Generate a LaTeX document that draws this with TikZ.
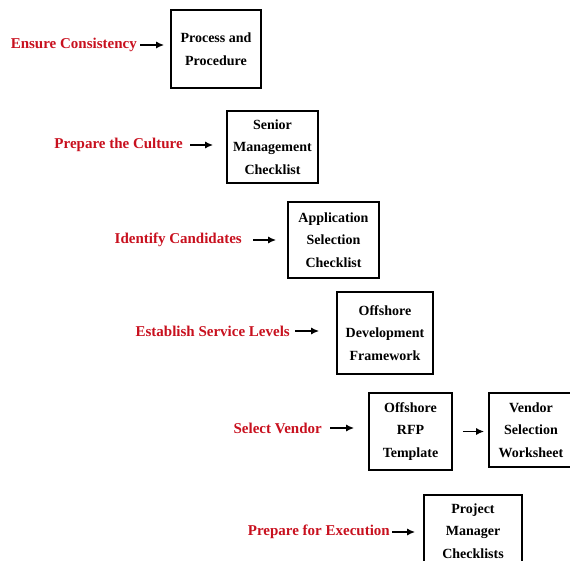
\documentclass[tikz,border=0pt]{standalone}
\usepackage{fontspec}
\setmainfont{Liberation Serif}
\usetikzlibrary{arrows.meta}
\definecolor{lblred}{RGB}{200,16,30}
\tikzset{
  stepbox/.style={draw=black, line width=1.6pt, align=center, inner sep=0pt,
    font=\bfseries\fontsize{14}{22.5}\selectfont},
  lbl/.style={anchor=east, text=lblred, inner sep=0pt, font=\bfseries\fontsize{15}{17}\selectfont},
  arr/.style={-{Latex[length=8pt,width=7pt]}, line width=1.6pt, black}
}
\begin{document}
\begin{tikzpicture}[x=1pt,y=-1pt]
\useasboundingbox (0,0) rectangle (570,561);
\clip (0,0) rectangle (570,561);
\node[stepbox, minimum width=90pt, minimum height=78pt] (b1) at (216,49) {Process and\\Procedure};
\node[stepbox, minimum width=91pt, minimum height=72pt] (b2) at (272.5,147) {Senior\\Management\\Checklist};
\node[stepbox, minimum width=91pt, minimum height=76pt] (b3) at (333.5,240) {Application\\Selection\\Checklist};
\node[stepbox, minimum width=96pt, minimum height=82pt] (b4) at (385,333) {Offshore\\Development\\Framework};
\node[stepbox, minimum width=83pt, minimum height=77pt] (b5) at (410.5,431.5) {Offshore\\RFP\\Template};
\node[stepbox, minimum width=84pt, minimum height=74pt] (b6) at (531,430) {Vendor\\Selection\\Worksheet};
\node[stepbox, minimum width=98pt, minimum height=72pt] (b7) at (473,531) {Project\\Manager\\Checklists};

\node[lbl] (l1) at (137,45) {Ensure Consistency};
\node[lbl] (l2) at (183,145) {Prepare the Culture};
\node[lbl] (l3) at (242,240) {Identify Candidates};
\node[lbl] (l4) at (290,331) {Establish Service Levels};
\node[lbl] (l5) at (322,428) {Select Vendor};
\node[lbl] (l7) at (390,532) {Prepare for Execution};

\draw[arr, shorten <=3pt, shorten >=6pt] (l1.east) -- (l1.east -| b1.west);
\draw[arr, shorten <=7pt, shorten >=13pt] (l2.east) -- (l2.east -| b2.west);
\draw[arr, shorten <=11pt, shorten >=11pt] (l3.east) -- (l3.east -| b3.west);
\draw[arr, shorten <=5pt, shorten >=17pt] (l4.east) -- (l4.east -| b4.west);
\draw[arr, shorten <=8pt, shorten >=14pt] (l5.east) -- (l5.east -| b5.west);
\draw[arr, shorten <=10pt, shorten >=4pt] (b5.east) -- (b5.east -| b6.west);
\draw[arr, shorten <=2pt, shorten >=8pt] (l7.east) -- (l7.east -| b7.west);
\end{tikzpicture}
\end{document}
